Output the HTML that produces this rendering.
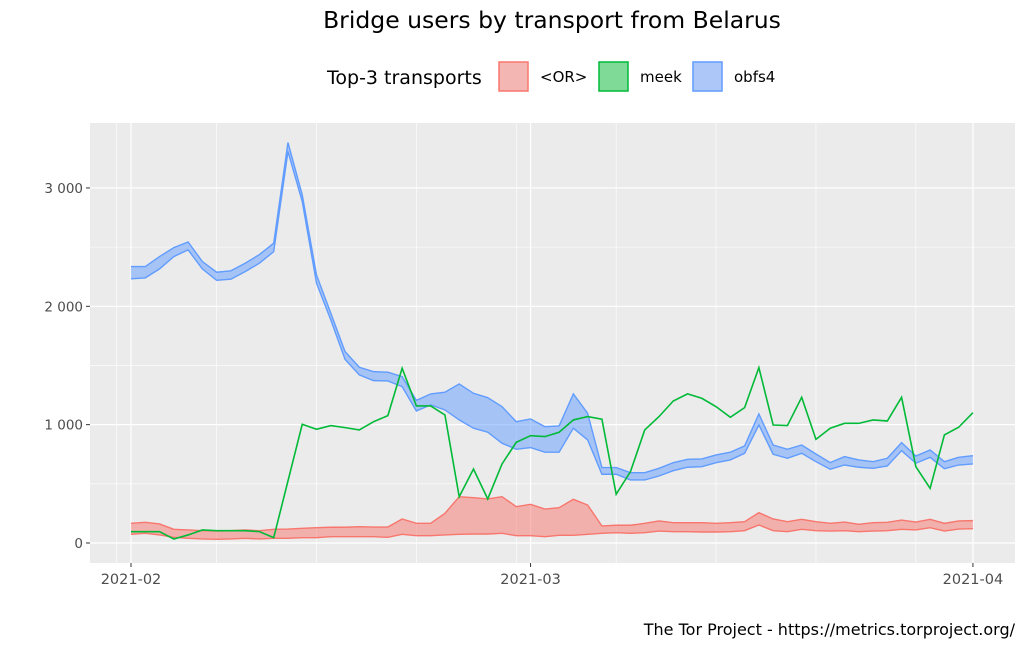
<!DOCTYPE html>
<html><head><meta charset="utf-8"><style>
body{margin:0;background:#fff;font-family:"Liberation Sans","DejaVu Sans",sans-serif;}
svg text{font-family:"DejaVu Sans","Liberation Sans",sans-serif;}
</style></head><body>
<svg id="chart" width="1035" height="646" xmlns="http://www.w3.org/2000/svg">
<rect width="1035" height="646" fill="#fff"/>
<text x="552" y="28" text-anchor="middle" font-size="23.5" fill="#000">Bridge users by transport from Belarus</text>
<g>
<text x="327" y="84" font-size="19" fill="#000">Top-3 transports</text>
<rect x="499" y="62" width="29" height="29" fill="#F4B6B2" stroke="#F8766D" stroke-width="1.5"/>
<text x="540" y="82" font-size="15">&lt;OR&gt;</text>
<rect x="599" y="62" width="29" height="29" fill="#7FDA98" stroke="#00BA38" stroke-width="1.5"/>
<text x="640" y="82" font-size="15">meek</text>
<rect x="693" y="62" width="29" height="29" fill="#ADC8F8" stroke="#619CFF" stroke-width="1.5"/>
<text x="734" y="82" font-size="15">obfs4</text>
</g>
<rect x="90" y="123" width="925" height="440" fill="#EBEBEB"/>
<g id="grid"></g><g id="marks"></g><g id="axes"></g>
<text x="1015" y="635" text-anchor="end" font-size="16" fill="#000">The Tor Project - https://metrics.torproject.org/</text>
</svg>
<script>
const orLow=[73,82,68,48,40,34,31,34,40,34,40,40,45,45,53,53,53,53,48,73,62,62,68,73,76,76,82,62,62,53,65,65,73,82,87,82,87,101,96,96,93,93,96,104,152,104,96,116,104,101,104,96,101,104,116,110,129,101,118,121];
const orHigh=[166,175,161,116,110,104,101,104,110,104,116,118,124,129,133,133,138,135,135,203,166,166,251,391,383,372,391,307,327,287,298,369,321,144,150,150,166,186,172,172,172,166,172,180,256,203,180,200,180,166,177,158,172,175,194,177,200,166,186,189];
const meek=[96,96,96,34,68,110,104,104,104,96,45,524,1003,961,992,975,955,1025,1076,1477,1158,1158,1082,391,625,372,668,851,907,899,936,1040,1068,1046,412,603,955,1068,1200,1260,1223,1152,1062,1144,1482,997,992,1231,876,970,1011,1011,1040,1031,1231,645,462,913,978,1101];
const obLow=[2232,2240,2316,2420,2477,2316,2220,2229,2293,2364,2462,3308,2885,2195,1885,1552,1420,1372,1369,1321,1115,1167,1124,1040,970,936,843,792,806,767,767,970,871,581,581,533,533,566,611,640,645,679,702,758,997,750,716,758,687,623,659,640,631,651,780,674,724,628,659,668];
const obHigh=[2336,2336,2420,2496,2544,2378,2288,2300,2364,2437,2533,3384,2942,2265,1942,1617,1485,1448,1443,1406,1205,1260,1274,1344,1265,1228,1152,1025,1048,983,989,1260,1096,637,637,594,594,631,679,707,710,744,767,820,1090,828,792,828,752,679,730,702,687,716,848,735,786,687,724,738];
const yTicks=[0,1000,2000,3000];
const yTickLabels=["0","1 000","2 000","3 000"];
const xTickDays=[0,28,59];
const xTickLabels=["2021-02","2021-03","2021-04"];
const NS="http://www.w3.org/2000/svg";
const x=d=>131+d*14.27, y=v=>543-v*0.11835;
function mk(tag,attrs,parent){const e=document.createElementNS(NS,tag);for(const k in attrs)e.setAttribute(k,attrs[k]);parent.appendChild(e);return e;}
const grid=document.getElementById('grid'),marks=document.getElementById('marks'),axes=document.getElementById('axes');
[500,1500,2500].forEach(v=>{const l=mk('line',{x1:90,x2:1015,y1:y(v),y2:y(v),stroke:'#fff','stroke-width':0.6},grid);

});
[-1,6,13,20,27,34,41,48,55].forEach(d=>{const l=mk('line',{x1:x(d),x2:x(d),y1:123,y2:563,stroke:'#fff','stroke-width':0.6},grid);

});
yTicks.forEach((v,i)=>{const l=mk('line',{x1:90,x2:1015,y1:y(v),y2:y(v),stroke:'#fff','stroke-width':1.2},grid);


const t=mk('line',{x1:86,x2:90,y1:y(v),y2:y(v),stroke:'#333','stroke-width':1},axes);


const tx=mk('text',{x:83,y:y(v)+5,'text-anchor':'end','font-size':13.5,fill:'#4d4d4d'},axes);tx.textContent=yTickLabels[i];

});
xTickDays.forEach((d,i)=>{const l=mk('line',{x1:x(d),x2:x(d),y1:123,y2:563,stroke:'#fff','stroke-width':1.2},grid);


const t=mk('line',{x1:x(d),x2:x(d),y1:563,y2:567,stroke:'#333','stroke-width':1},axes);


const tx=mk('text',{x:x(d),y:584,'text-anchor':'middle','font-size':14.5,fill:'#4d4d4d'},axes);tx.textContent=xTickLabels[i];

});
function ribbon(lo,hi,fill,stroke,name){
 const up=hi.map((v,i)=>x(i)+','+y(v)).join(' ');
 const dn=lo.map((v,i)=>x(i)+','+y(v)).reverse().join(' ');
 const p=mk('polygon',{points:up+' '+dn,fill:fill,stroke:'none'},marks);
 
 
 [lo,hi].forEach(a=>{const l=mk('polyline',{points:a.map((v,i)=>x(i)+','+y(v)).join(' '),fill:'none',stroke:stroke,'stroke-width':1.4},marks);
 
 });
}
ribbon(orLow,orHigh,'rgba(248,118,109,0.5)','#F8766D','or');
ribbon(obLow,obHigh,'rgba(97,156,255,0.5)','#619CFF','obfs4');
const m=mk('polyline',{points:meek.map((v,i)=>x(i)+','+y(v)).join(' '),fill:'none',stroke:'#00BA38','stroke-width':1.6},marks);


</script>
</body></html>
